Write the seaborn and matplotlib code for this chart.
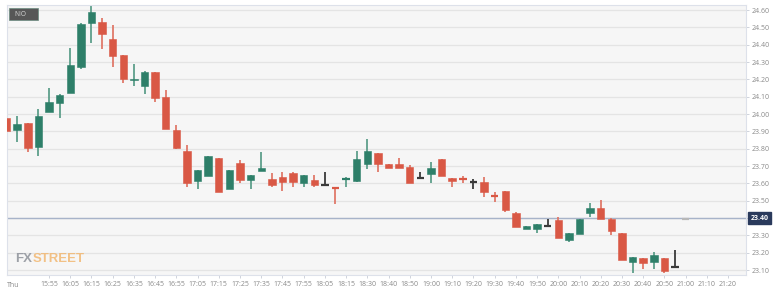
import numpy as np
import pandas as pd
import matplotlib
matplotlib.use("Agg")
import matplotlib.pyplot as plt
import seaborn as sns
from matplotlib.transforms import blended_transform_factory

# ---------------- data ----------------
times = ["15:35", "15:40", "15:45", "15:50", "15:55", "16:00", "16:05", "16:10", "16:15", "16:20",
         "16:25", "16:30", "16:35", "16:40", "16:45", "16:50", "16:55", "17:00", "17:05", "17:10",
         "17:15", "17:20", "17:25", "17:30", "17:35", "17:40", "17:45", "17:50", "17:55", "18:00",
         "18:05", "18:10", "18:15", "18:20", "18:30", "18:35", "18:40", "18:45", "18:50", "18:55",
         "19:00", "19:05", "19:10", "19:15", "19:20", "19:25", "19:30", "19:35", "19:40", "19:45",
         "19:50", "19:55", "20:00", "20:05", "20:10", "20:15", "20:20", "20:25", "20:30", "20:35",
         "20:40", "20:45", "20:50", "20:55", "21:00"]
opens = [23.98, 23.908, 23.947, 23.812, 24.012, 24.062, 24.123, 24.27, 24.523, 24.531,
         24.431, 24.34, 24.197, 24.163, 24.241, 24.10, 23.908, 23.787, 23.614, 23.643,
         23.748, 23.568, 23.719, 23.62, 23.672, 23.626, 23.639, 23.662, 23.604, 23.62,
         23.591, 23.575, 23.625, 23.616, 23.712, 23.777, 23.711, 23.711, 23.697, 23.633,
         23.652, 23.739, 23.629, 23.625, 23.61, 23.61, 23.529, 23.558, 23.427, 23.337,
         23.337, 23.356, 23.389, 23.274, 23.308, 23.428, 23.456, 23.395, 23.312, 23.149,
         23.168, 23.149, 23.168, 23.12, 23.395]
highs = [23.985, 23.99, 23.95, 24.029, 24.148, 24.114, 24.379, 24.525, 24.623, 24.552,
         24.512, 24.34, 24.289, 24.248, 24.245, 24.139, 23.937, 23.82, 23.677, 23.758,
         23.748, 23.677, 23.737, 23.649, 23.779, 23.658, 23.667, 23.667, 23.649, 23.649,
         23.667, 23.575, 23.639, 23.785, 23.854, 23.777, 23.711, 23.745, 23.706, 23.667,
         23.725, 23.739, 23.629, 23.643, 23.624, 23.639, 23.552, 23.558, 23.437, 23.356,
         23.366, 23.395, 23.404, 23.316, 23.395, 23.485, 23.504, 23.40, 23.312, 23.177,
         23.168, 23.206, 23.168, 23.216, 23.395]
lows = [23.87, 23.84, 23.783, 23.76, 24.01, 23.979, 24.12, 24.26, 24.411, 24.373,
        24.273, 24.18, 24.162, 24.114, 24.071, 23.912, 23.80, 23.581, 23.568, 23.643,
        23.549, 23.568, 23.60, 23.568, 23.672, 23.581, 23.558, 23.581, 23.581, 23.581,
        23.591, 23.479, 23.581, 23.61, 23.681, 23.667, 23.687, 23.69, 23.60, 23.633,
        23.60, 23.643, 23.581, 23.604, 23.566, 23.52, 23.494, 23.437, 23.35, 23.337,
        23.316, 23.35, 23.287, 23.26, 23.308, 23.408, 23.395, 23.302, 23.158, 23.085,
        23.104, 23.104, 23.081, 23.12, 23.395]
closes = [23.905, 23.94, 23.802, 23.989, 24.069, 24.108, 24.281, 24.521, 24.59, 24.463,
          24.335, 24.202, 24.203, 24.241, 24.091, 23.912, 23.802, 23.604, 23.677, 23.758,
          23.549, 23.677, 23.62, 23.649, 23.687, 23.591, 23.61, 23.61, 23.649, 23.591,
          23.591, 23.57, 23.63, 23.739, 23.787, 23.711, 23.69, 23.691, 23.60, 23.633,
          23.687, 23.643, 23.614, 23.621, 23.61, 23.552, 23.524, 23.447, 23.35, 23.356,
          23.366, 23.356, 23.287, 23.316, 23.395, 23.456, 23.395, 23.327, 23.158, 23.177,
          23.139, 23.187, 23.097, 23.12, 23.395]
x_tick_labels = ["15:55", "16:05", "16:15", "16:25", "16:35", "16:45", "16:55", "17:05", "17:15",
                 "17:25", "17:35", "17:45", "17:55", "18:05", "18:15", "18:30", "18:40", "18:50",
                 "19:00", "19:10", "19:20", "19:30", "19:40", "19:50", "20:00", "20:10", "20:20",
                 "20:30", "20:40", "20:50", "21:00", "21:10", "21:20"]
day_label = "Thu"
symbol = "NIO"
last_price = 23.40
y_ticks = [23.10, 23.20, 23.30, 23.40, 23.50, 23.60, 23.70, 23.80, 23.90,
           24.00, 24.10, 24.20, 24.30, 24.40, 24.50, 24.60]

df = pd.DataFrame({"time": times, "open": opens, "high": highs, "low": lows, "close": closes})
df["idx"] = np.arange(len(df))

# ---------------- style ----------------
sns.set_theme(style="white")
plt.rcParams["font.family"] = ["Open Sans", "DejaVu Sans"]

W, H = 778, 295
fig = plt.figure(figsize=(W / 100, H / 100), dpi=100)
fig.patch.set_facecolor("white")
ax = fig.add_axes([7 / W, 20 / H, (746 - 7) / W, 270 / H])
ax.set_facecolor("#f6f6f6")

GREEN = "#2e7f69"
RED = "#d95845"
GREEN_W = "#5e9f8b"
RED_W = "#e0796a"
DARK = "#3a3a3a"
LIGHT = "#b8b8b8"

body_w = 0.70
n = len(df)
for i, r in df.iterrows():
    o, h, l, c = r["open"], r["high"], r["low"], r["close"]
    if i == n - 1:
        col, wcol = LIGHT, LIGHT
    elif c > o:
        col, wcol = GREEN, GREEN_W
    elif c < o:
        col, wcol = RED, RED_W
    else:
        col, wcol = DARK, DARK
    ax.vlines(r["idx"], l, h, color=wcol, lw=1.3, zorder=2)
    lo, hi = min(o, c), max(o, c)
    if hi - lo < 0.006:
        ax.hlines((o + c) / 2, r["idx"] - body_w / 2, r["idx"] + body_w / 2, color=col, lw=1.6, zorder=3)
    else:
        ax.bar(r["idx"], hi - lo, bottom=lo, width=body_w, color=col,
               edgecolor=col, linewidth=0.4, zorder=3)

# current price line
ax.axhline(last_price, color="#a7b3c9", lw=1.0, zorder=1)

ax.set_xlim(0.04, 69.69)
ax.set_ylim(23.072, 24.629)

# grid
ax.set_yticks(y_ticks)
ax.yaxis.grid(True, color="#e4e4e4", lw=0.9)
ax.xaxis.grid(False)
ax.set_axisbelow(True)
ax.yaxis.tick_right()
ax.set_yticklabels([f"{v:.2f}" for v in y_ticks])
ax.tick_params(axis="y", which="both", right=True, length=2.5, width=0.6, color="#c8ccd6",
               labelsize=5, labelcolor="#8a8a8a", pad=1.5)

xt = [4 + 2 * k for k in range(len(x_tick_labels))]
ax.set_xticks(xt)
ax.set_xticklabels(x_tick_labels)
ax.tick_params(axis="x", bottom=True, length=2, width=0.6, color="#c8ccd6",
               labelsize=5, labelcolor="#8a8a8a", pad=2.5)

for s in ax.spines.values():
    s.set_color("#dde1ea")
    s.set_linewidth(0.8)

# day label
ax.text(0.0, -0.027, day_label, transform=blended_transform_factory(ax.transAxes, ax.transAxes),
        ha="left", va="top", fontsize=5, color="#8a8a8a")

# price label box
tr = blended_transform_factory(ax.transAxes, ax.transData)
ax.text(1.006, last_price, f"{last_price:.2f}", transform=tr, ha="left", va="center",
        fontsize=5, color="white", fontweight="bold",
        bbox=dict(boxstyle="square,pad=0.35", facecolor="#2a3a5c", edgecolor="#2a3a5c"))

# symbol box
fig.patches.append(plt.Rectangle((9 / W, 1 - 20 / H), 29 / W, 12 / H, transform=fig.transFigure,
                                 facecolor="#575757", edgecolor="#6a8c80", lw=0.5, zorder=5))
fig.text(20 / W, 1 - 14 / H, symbol, ha="center", va="center", fontsize=4.8,
         color="#d8d8d8", zorder=6)

# watermark (two colours, placed side by side)
wm_kw = dict(va="baseline", fontsize=9.5, fontweight="bold",
             family=["Liberation Sans", "DejaVu Sans"], alpha=0.85)
t1 = fig.text(15 / W, 1 - 262 / H, "FX", ha="left", color="#8e929a", **wm_kw)
fig.canvas.draw()
bb = t1.get_window_extent(renderer=fig.canvas.get_renderer())
fig.text(bb.x1 / W + 0.5 / W, 1 - 262 / H, "STREET", ha="left", color="#f2b872", **wm_kw)

fig.savefig("out.png", dpi=100, facecolor="white")
